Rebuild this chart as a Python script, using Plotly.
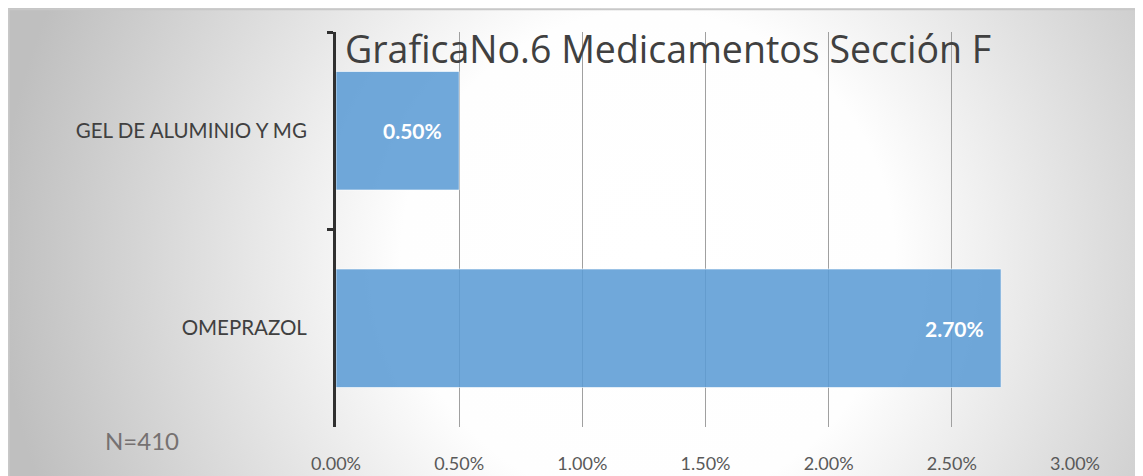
import plotly.graph_objects as go
import urllib.parse

categories = ["GEL DE ALUMINIO Y MG", "OMEPRAZOL"]
values = [0.005, 0.027]
value_labels = ["0.50%", "2.70%"]
tick_vals = [0, 0.005, 0.01, 0.015, 0.02, 0.025, 0.03]
tick_text = ["0.00%", "0.50%", "1.00%", "1.50%", "2.00%", "2.50%", "3.00%"]
title_text = "GraficaNo.6 Medicamentos Sección F"
note_text = "N=410"

# page has an 8px body margin; figure is placed at (8, 8)
OFF = 8
W, H = 1143 - OFF, 476 - OFF
L, R, T, B = 336 - OFF, 68, 32 - OFF, 49
pw, ph = W - L - R, H - T - B


def px_x(x):
    return (x - OFF - L) / pw


def px_y(y):
    return 1 - (y - OFF - T) / ph


svg = (
    f'<svg xmlns="http://www.w3.org/2000/svg" width="{W}" height="{H}" viewBox="0 0 {W} {H}" preserveAspectRatio="none">'
    '<defs><radialGradient id="g" gradientUnits="userSpaceOnUse" cx="640" cy="250" r="650">'
    '<stop offset="0" stop-color="#ffffff"/><stop offset="0.38" stop-color="#fefefe"/>'
    '<stop offset="1" stop-color="#bfbfbf"/></radialGradient></defs>'
    f'<rect x="0" y="0" width="{W}" height="{H}" fill="url(#g)"/></svg>'
)
src = "data:image/svg+xml;charset=utf-8," + urllib.parse.quote(svg)

fig = go.Figure()
fig.add_trace(go.Bar(
    y=categories, x=values, orientation="h",
    marker=dict(color="rgba(91,155,213,0.87)", line=dict(color="rgba(255,255,255,0.6)", width=1)),
    width=0.6, hoverinfo="skip",
))

for c, v, t in zip(categories, values, value_labels):
    fig.add_annotation(x=v, y=c, xref="x", yref="y", text=f"<b>{t}</b>", showarrow=False,
                       xanchor="right", xshift=-15,
                       font=dict(family="Lato, Open Sans, sans-serif", size=21, color="white"))

fig.add_annotation(x=px_x(142), y=px_y(440), xref="paper", yref="paper",
                   text=note_text, showarrow=False, xanchor="center", yanchor="middle",
                   font=dict(family="Lato, sans-serif", size=24, color="#767171"))

fig.add_annotation(x=px_x(343), y=px_y(48), xref="paper", yref="paper",
                   text=title_text, showarrow=False, xanchor="left", yanchor="middle",
                   font=dict(family="Open Sans, sans-serif", size=37.5, color="#404040"))

fig.add_layout_image(dict(source=src, xref="paper", yref="paper", x=-L / pw, y=1 + T / ph,
                          sizex=W / pw, sizey=H / ph, sizing="stretch", layer="below",
                          xanchor="left", yanchor="top"))

# thin frame line on top and left
fig.add_shape(type="line", xref="paper", yref="paper", x0=-L / pw + 0.001, x1=1 + R / pw,
              y0=1 + T / ph - 0.003, y1=1 + T / ph - 0.003, line=dict(color="#c8c8c8", width=2))
fig.add_shape(type="line", xref="paper", yref="paper", x0=-L / pw + 0.001, x1=-L / pw + 0.001,
              y0=1 + T / ph, y1=-B / ph, line=dict(color="#c8c8c8", width=2))

fig.update_layout(
    width=W, height=H, margin=dict(l=L, r=R, t=T, b=B, autoexpand=False),
    paper_bgcolor="white", plot_bgcolor="rgba(0,0,0,0)", showlegend=False,
    xaxis=dict(range=[0, 0.03], tickvals=tick_vals, ticktext=tick_text, showgrid=True,
               gridcolor="#a0a0a0", gridwidth=1, zeroline=False, showline=False,
               ticks="", ticklabelstandoff=24,
               tickfont=dict(family="Lato, sans-serif", size=18, color="#595959")),
    yaxis=dict(categoryorder="array", categoryarray=categories, autorange="reversed",
               showline=True, linecolor="#303030", linewidth=3, ticks="outside",
               tickson="boundaries", ticklen=6, tickwidth=3, tickcolor="#303030",
               ticklabelstandoff=22, showgrid=False,
               tickfont=dict(family="Lato, sans-serif", size=20.5, color="#404040")),
)

fig.write_html("out.html")
